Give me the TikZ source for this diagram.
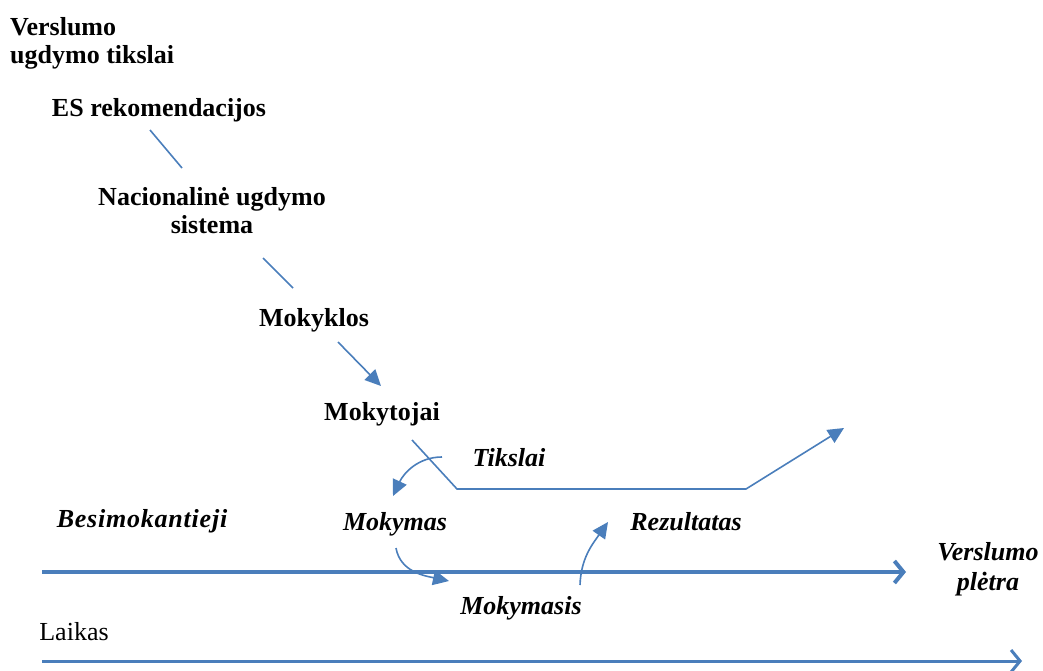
\documentclass[tikz,border=0pt]{standalone}
\usepackage{fontspec}
\setmainfont{Liberation Serif}
\usetikzlibrary{positioning,arrows.meta}
\definecolor{lineblue}{RGB}{74,126,187}

\begin{document}
\begin{tikzpicture}[x=1pt,y=-1pt,inner sep=0pt,
    lbl/.style={font=\fontsize{26}{28}\selectfont\bfseries,align=center},
    ilbl/.style={font=\fontsize{26}{30}\selectfont\bfseries\itshape,align=center},
    link/.style={lineblue,line width=1.6pt},
    flow/.style={lineblue,line width=1.6pt,-{Triangle[length=16pt,width=15pt]}},
    timeline/.style={lineblue,-{Straight Barb[length=9pt,width=22pt]}}]
  \useasboundingbox (0,0) rectangle (1043,671);

  % hierarchy
  \node[lbl,anchor=north west,align=left] (goals) at (10,17) {Verslumo\\ugdymo tikslai};
  \node[lbl,anchor=base] (es) at (159,117) {ES rekomendacijos};
  \node[lbl,anchor=north] (nat) at (212,187) {Nacionalinė ugdymo\\sistema};
  \node[lbl,anchor=base] (school) at (314,326) {Mokyklos};
  \node[lbl,anchor=base] (teach) at (382,420) {Mokytojai};

  % process labels
  \node[ilbl,anchor=base] (aims) at (509,466) {Tikslai};
  \node[ilbl,anchor=base] (learners) at (142,527) {\addfontfeatures{LetterSpace=3}Besimokantieji};
  \node[ilbl,anchor=base] (teaching) at (395,530) {Mokymas};
  \node[ilbl,anchor=base] (result) at (686,530) {Rezultatas};
  \node[ilbl,anchor=base] (learning) at (521,614) {Mokymasis};
  \node[ilbl,anchor=north] (growth) at (988,542) {Verslumo\\plėtra};
  \node[font=\fontsize{26}{30}\selectfont,anchor=base] (time) at (74,640) {Laikas};

  \coordinate (es1) at (150,130);   \coordinate (es2) at (182,168);
  \coordinate (nat1) at (263,258);  \coordinate (nat2) at (293,288);
  \coordinate (sc1) at (338,342);   \coordinate (sc2) at (381,386);
  \coordinate (te1) at (412,440);   \coordinate (te2) at (457,489);
  \coordinate (te3) at (746,489);   \coordinate (te4) at (844,428);
  \coordinate (ai1) at (442,457);   \coordinate (ai2) at (393,496);
  \coordinate (mo1) at (396,548);   \coordinate (mo2) at (449,581);
  \coordinate (re1) at (580,585);   \coordinate (re2) at (608,522);
  \coordinate (ax1) at (42,572);    \coordinate (ax2) at (906,572);
  \coordinate (tl1) at (42,661);    \coordinate (tl2) at (1022,661);

  \draw[link] (es1) -- (es2);
  \draw[link] (nat1) -- (nat2);
  \draw[flow] (sc1) -- (sc2);
  \draw[flow] (te1) -- (te2) -- (te3) -- (te4);
  \draw[flow] (ai1) to[out=180,in=65] (ai2);
  \draw[flow] (mo1) to[out=-80,in=168] (mo2);
  \draw[flow] (re1) to[out=88,in=-125] (re2);

  \draw[timeline,line width=4pt] (ax1) -- (ax2);
  \draw[timeline,line width=3pt] (tl1) -- (tl2);
\end{tikzpicture}
\end{document}
